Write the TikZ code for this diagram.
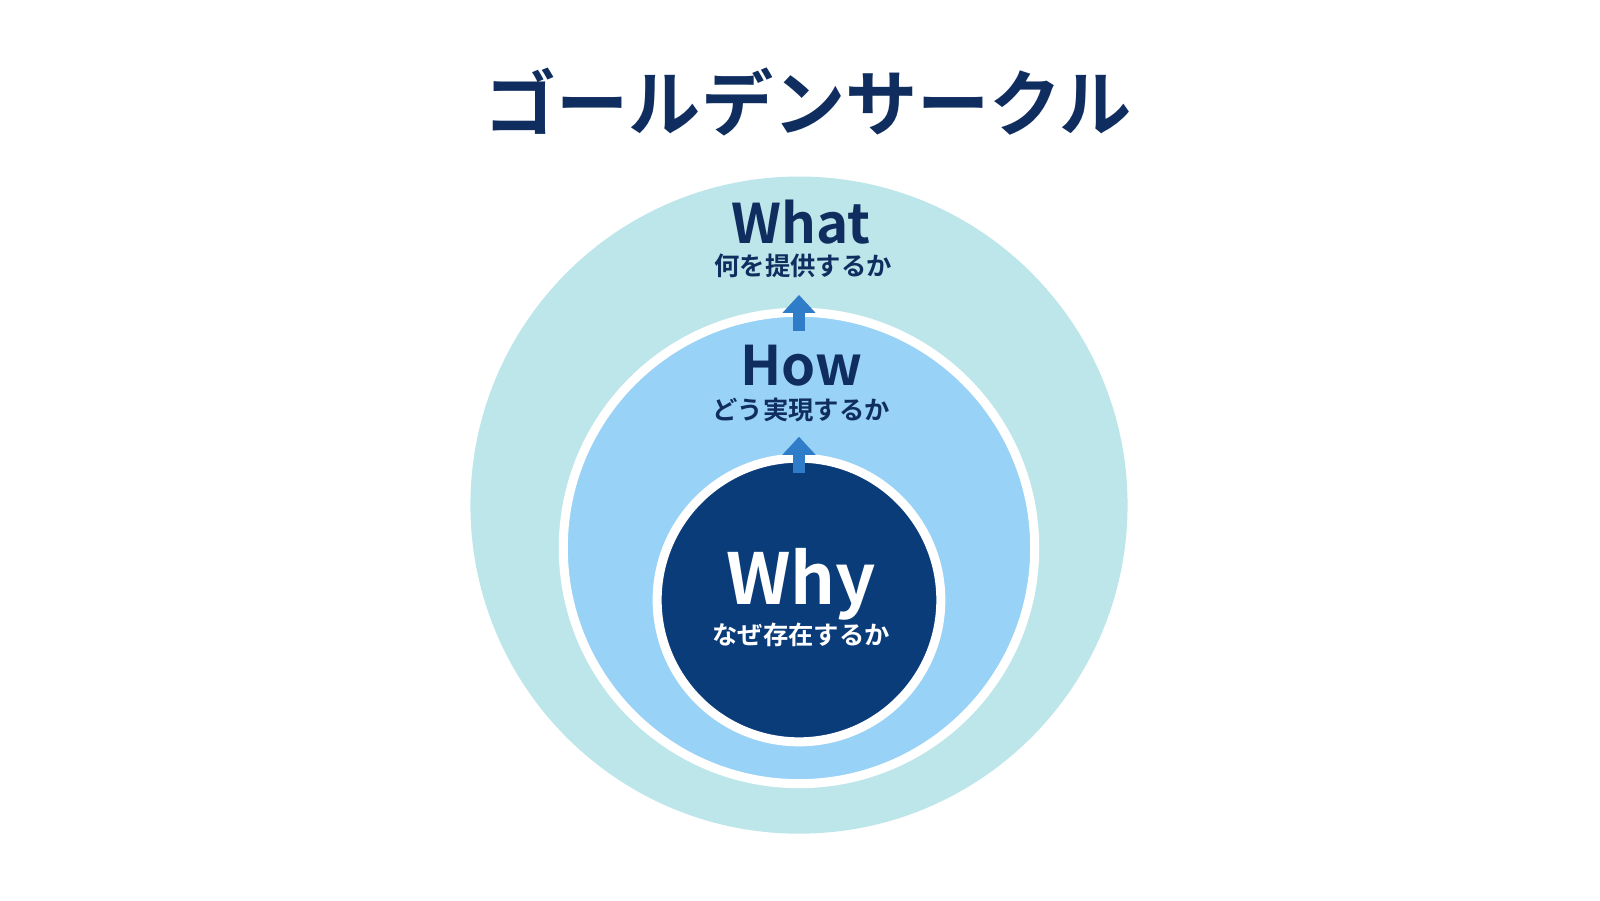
\documentclass[tikz,border=0pt]{standalone}
\usepackage{fontspec}
\setmainfont{Noto Sans CJK JP}[BoldFont={Noto Sans CJK JP Bold}]
\usetikzlibrary{arrows.meta}
\definecolor{navy}{HTML}{0F2D5E}
\definecolor{outerc}{HTML}{BDE6EA}
\definecolor{midc}{HTML}{99D2F7}
\definecolor{innerc}{HTML}{0B3C7A}
\definecolor{arrowc}{HTML}{2F7CC8}
\tikzset{
  ring/.style={circle, inner sep=0pt, line width=0.9mm},
  head/.style={font=\bfseries\fontsize{15.5}{16}\selectfont, text=navy},
  sub/.style={font=\bfseries\fontsize{7.2}{8}\selectfont, text=navy},
  up/.style={arrowc, line width=1.1mm, -{Triangle[width=3.2mm,length=1.8mm]}}
}
\begin{document}
\begin{tikzpicture}[x=0.0102cm, y=-0.0102cm]
      \useasboundingbox[fill=white] (0,0) rectangle (1568,882);
      % circles
      \node (outer) at (783,495) [ring, fill=outerc, minimum size=644*0.0102cm] {};
      \node (mid) at (783,537) [ring, draw=white, fill=midc, minimum size=462*0.0102cm] {};
      \node (inner) at (783,588) [ring, draw=white, fill=innerc, minimum size=278*0.0102cm] {};

      % title
      \node (title) at (792,100) [font=\bfseries\fontsize{20.5}{21}\selectfont, text=navy] {ゴールデンサークル};

      % labels
      \node (what) at (785,218) [head] {What};
      \node (whatsub) at (787,261) [sub] {何を提供するか};
      \node (how) at (785,358) [head] {How};
      \node (howsub) at (785,402) [sub] {どう実現するか};
      \node (why) at (785,573) [head, text=white, font=\bfseries\fontsize{20}{20}\selectfont] {Why};
      \node (whysub) at (785,622) [sub, text=white] {なぜ存在するか};

      % arrows
      \coordinate (a1) at (783,324);
      \coordinate (a1e) at (783,289);
      \coordinate (a2) at (783,464);
      \coordinate (a2e) at (783,428);
      \draw[up] (a1) to (a1e);
      \draw[up] (a2) to (a2e);
\end{tikzpicture}
\end{document}
